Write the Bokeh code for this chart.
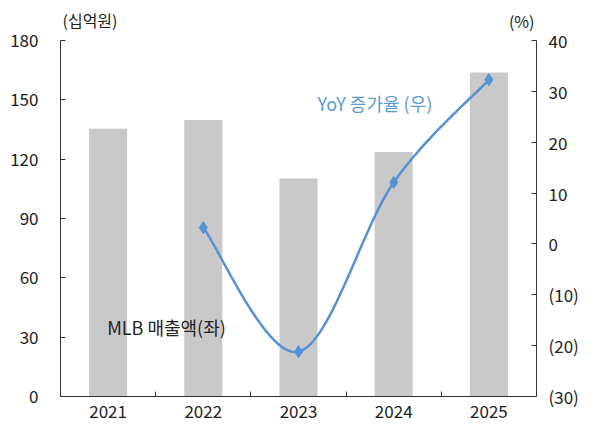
from bokeh.plotting import figure
from bokeh.models import Range1d, LinearAxis, FixedTicker, Label
from bokeh.embed import file_html
from bokeh.resources import INLINE
import numpy as np

# ---- data ----
years = ["2021", "2022", "2023", "2024", "2025"]
sales = [135.4, 139.8, 110.2, 123.6, 163.8]          # 십억원 (left axis)
yoy_years = ["2022", "2023", "2024", "2025"]
yoy = [3.2, -21.2, 12.1, 32.3]                       # % (right axis)
left_ticks = [0, 30, 60, 90, 120, 150, 180]
right_ticks = [-30, -20, -10, 0, 10, 20, 30, 40]
right_tick_labels = ["(30)", "(20)", "(10)", "0", "10", "20", "30", "40"]

FONT = "Noto Sans CJK KR"
FS = "17px"
BAR_COLOR = "#C9C9C9"
LINE_COLOR = "#5592D5"
AXIS_COLOR = "#333333"

# layout (pixels): frame spans FRAME_TOP..FRAME_BOTTOM, axis top value sits at AXIS_TOP
W, H = 582, 425
FRAME_TOP, FRAME_BOTTOM, AXIS_TOP = 8, 396, 40
L_MIN, L_MAX = left_ticks[0], left_ticks[-1]
R_MIN, R_MAX = right_ticks[0], right_ticks[-1]
ext = (FRAME_BOTTOM - FRAME_TOP) / (FRAME_BOTTOM - AXIS_TOP)
l_top = L_MIN + (L_MAX - L_MIN) * ext
r_top = R_MIN + (R_MAX - R_MIN) * ext

x_bar = list(range(len(years)))
x_yoy = [years.index(y) for y in yoy_years]

p = figure(width=W, height=H, x_range=Range1d(-0.5, len(years) - 0.5), y_range=Range1d(L_MIN, l_top),
           output_backend="svg", toolbar_location=None,
           min_border_left=60, min_border_right=46, min_border_top=FRAME_TOP,
           min_border_bottom=H - FRAME_BOTTOM)
p.extra_y_ranges = {"pct": Range1d(R_MIN, r_top)}
p.outline_line_color = None
p.grid.visible = False
p.background_fill_color = "white"

# bars
p.vbar(x=x_bar, top=sales, width=0.4, bottom=0, fill_color=BAR_COLOR, line_color=None)

# smoothed line (Catmull-Rom style bezier through the data points, drawn in pixel-like space)
sx, sy = 95.2, (FRAME_BOTTOM - AXIS_TOP) / (R_MAX - R_MIN)
pts = np.array([[xi * sx, yi * sy] for xi, yi in zip(x_yoy, yoy)])
n = len(pts)
curve = []
for i in range(n - 1):
    p0 = pts[i - 1] if i > 0 else pts[i]
    p1 = pts[i]
    p2 = pts[i + 1]
    p3 = pts[i + 2] if i + 2 < n else pts[i + 1]
    c1 = p1 + (p2 - p0) / 6.0
    c2 = p2 - (p3 - p1) / 6.0
    for t in np.linspace(0, 1, 30, endpoint=(i == n - 2)):
        b = ((1 - t) ** 3) * p1 + 3 * ((1 - t) ** 2) * t * c1 + 3 * (1 - t) * t ** 2 * c2 + t ** 3 * p2
        curve.append(b)
curve = np.array(curve)
p.line(curve[:, 0] / sx, curve[:, 1] / sy, y_range_name="pct", line_color=LINE_COLOR, line_width=2.5)
p.scatter(x_yoy, yoy, y_range_name="pct", marker="diamond", size=12,
          fill_color=LINE_COLOR, line_color=LINE_COLOR)

# x axis
xa = p.xaxis[0]
xa.ticker = FixedTicker(ticks=x_bar, minor_ticks=[0.5, 1.5, 2.5, 3.5])
xa.major_label_overrides = {i: y for i, y in enumerate(years)}
xa.major_tick_line_color = None
xa.minor_tick_in = 5
xa.minor_tick_out = 0
xa.minor_tick_line_color = AXIS_COLOR
xa.axis_line_color = AXIS_COLOR
xa.major_label_standoff = 2

# left axis
ya = p.yaxis[0]
ya.ticker = FixedTicker(ticks=left_ticks)
ya.bounds = (L_MIN, L_MAX)
ya.major_tick_in = 5
ya.major_tick_out = 0
ya.minor_tick_line_color = None
ya.axis_line_color = AXIS_COLOR
ya.major_tick_line_color = AXIS_COLOR
ya.major_label_standoff = 22

# right axis
ra = LinearAxis(y_range_name="pct", ticker=FixedTicker(ticks=right_ticks),
                major_label_overrides={t: l for t, l in zip(right_ticks, right_tick_labels)})
ra.bounds = (R_MIN, R_MAX)
ra.major_tick_in = 5
ra.major_tick_out = 0
ra.minor_tick_line_color = None
ra.axis_line_color = AXIS_COLOR
ra.major_tick_line_color = AXIS_COLOR
ra.major_label_standoff = 12
p.add_layout(ra, "right")

for ax in [xa, ya, ra]:
    ax.major_label_text_font = FONT
    ax.major_label_text_font_size = FS
    ax.major_label_text_color = "#222222"

# unit labels (inside the frame, above the axis tops)
p.add_layout(Label(x=-0.5, y=L_MAX, x_offset=2, y_offset=21, text="(십억원)", text_align="left",
                   text_baseline="middle", text_font=FONT, text_font_size="16px", text_color="#222222"))
p.add_layout(Label(x=len(years) - 0.5, y=L_MAX, x_offset=-2, y_offset=20, text="(%)", text_align="right",
                   text_baseline="middle", text_font=FONT, text_font_size="16px", text_color="#222222"))

# series labels
p.add_layout(Label(x=2.2, y=27.8, y_range_name="pct", text="YoY 증가율 (우)", text_align="left",
                   text_baseline="middle", text_font=FONT, text_font_size="18px", text_color="#5B9BD5"))
p.add_layout(Label(x=-0.01, y=35.3, text="MLB 매출액(좌)", text_align="left",
                   text_baseline="middle", text_font=FONT, text_font_size="18px", text_color="#222222"))

open("out.html", "w").write(file_html(p, INLINE))
